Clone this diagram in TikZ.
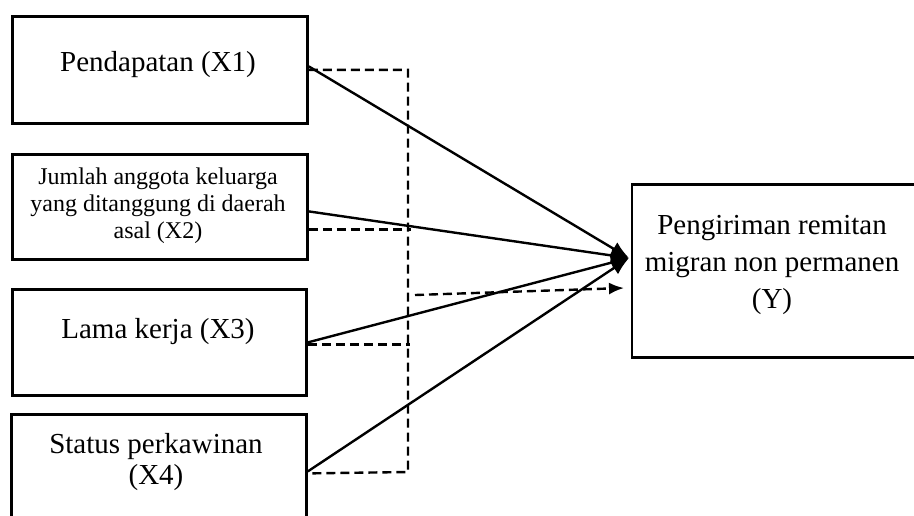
\documentclass[tikz,border=0pt]{standalone}
\usepackage{fontspec}
\setmainfont{Liberation Serif}
\usetikzlibrary{arrows.meta,positioning,calc}

\begin{document}
\begin{tikzpicture}[x=0.5pt, y=-0.5pt,
    box/.style={draw, line width=1.4pt, rectangle, inner sep=0pt, anchor=north west},
    txt/.style={align=center, inner sep=0pt, font=\fontsize{14.5}{15}\selectfont},
    pathline/.style={line width=1.2pt, -{Latex[length=9pt,width=7.5pt]}},
    dashline/.style={line width=1.2pt, dash pattern=on 4.5pt off 2.5pt}]
    \clip (0,0) rectangle (914,515);

    % Boxes
    \node[box, minimum width=147.5pt, minimum height=53.5pt] (x1) at (11,15) {};
    \node[box, minimum width=147.5pt, minimum height=52.5pt] (x2) at (11,153) {};
    \node[box, minimum width=147pt, minimum height=53pt] (x3) at (11,288) {};
    \node[box, minimum width=147.5pt, minimum height=57pt] (x4) at (10,413) {};
    \node[box, minimum width=150pt, minimum height=86.5pt] (y) at (630.5,183) {};

    % Texts
    \node[txt] (t1) at (158,65) {Pendapatan (X1)};
    \node[txt, font=\fontsize{12}{13.5}\selectfont] (t2) at (158,206)
        {Jumlah anggota keluarga\\yang ditanggung di daerah\\asal (X2)};
    \node[txt] (t3) at (158,332) {Lama kerja (X3)};
    \node[txt, font=\fontsize{14.5}{15.5}\selectfont] (t4) at (156,462) {Status perkawinan\\(X4)};
    \node[txt, font=\fontsize{14.5}{18.5}\selectfont] (ty) at (772,265)
        {Pengiriman remitan\\migran non permanen\\(Y)};

    % Points
    \coordinate (tip) at (629,258);
    \coordinate (busbot) at (408,472);
    \coordinate (dstart) at (415,295);
    \coordinate (dend) at (624,288);

    % Dashed links
    \draw[dashline] (x1.east) -| (busbot) -- ([yshift=-1pt]x4.east);
    \draw[dashline] ([yshift=-11.25pt]x2.east) -- ++(51pt,0);
    \draw[dashline] ([yshift=-1pt]x3.east) -- ++(51pt,0);
    \draw[dashline, -{Latex[length=7.5pt,width=6pt]}] (dstart) -- (dend);

    % Direct effects
    \draw[pathline] ([yshift=1.75pt]x1.east) -- (tip);
    \draw[pathline] ([yshift=-2.25pt]x2.east) -- (tip);
    \draw[pathline] (x3.east) -- (tip);
    \draw[pathline] (x4.east) -- (tip);
\end{tikzpicture}
\end{document}
